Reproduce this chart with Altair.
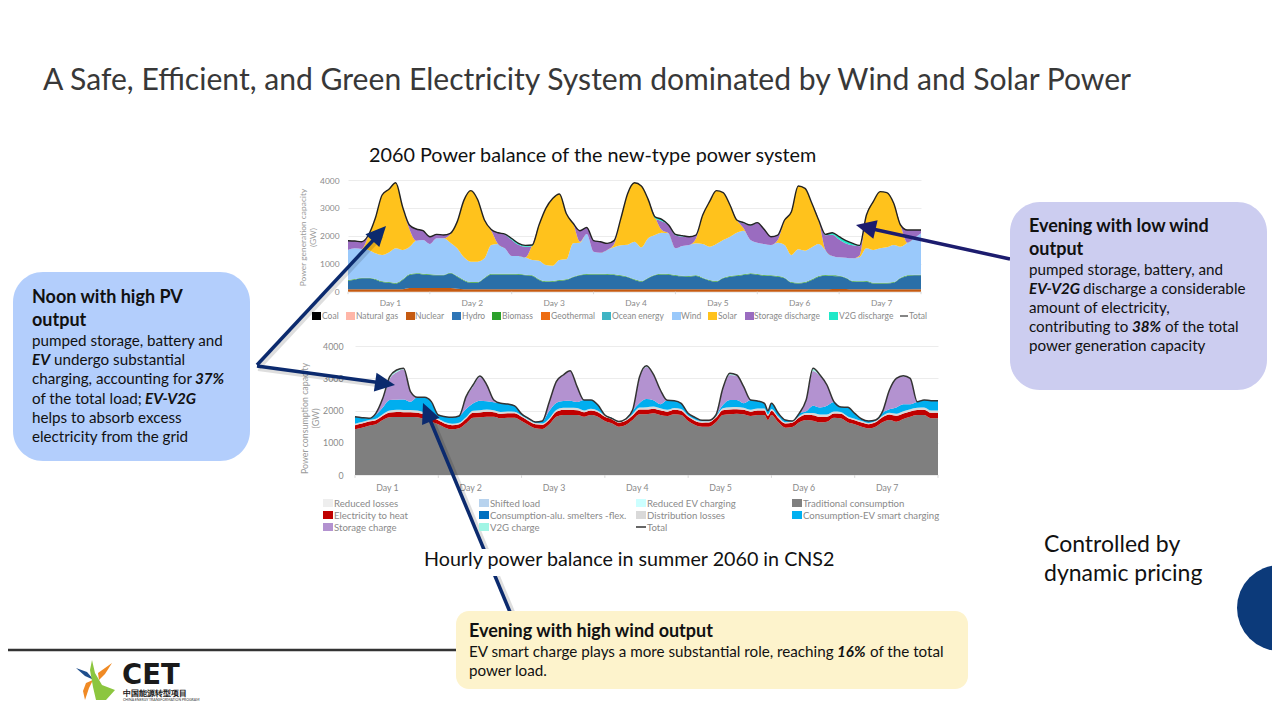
import altair as alt
import pandas as pd

FONT = "Lato"
W, H = 1264, 704
OX, OY = 8, 8
CURVE = "monotone"

# ---------- generation chart (GW), every 2 hours over 7 days ----------
gen_total = [
 1827,1815,1790,2030,2627,3463,3666,3900,3045,2388,2245,2185,
 1970,2054,2030,2090,2500,3280,3620,3300,2570,2230,2110,2060,
 1905,1730,1660,1670,2390,2985,3340,3500,2800,2450,2185,2300,
 1830,1790,1730,1830,2627,3520,3900,3785,3307,2686,2590,2390,
 2055,2006,1970,2030,2746,3224,3618,3546,3104,2567,2472,2388,
 2472,2233,1970,2030,2567,2866,3785,3700,3164,2567,2054,2113,
 1970,1827,1730,1660,2746,3224,3582,3546,3164,2388,2209,2209,2209]
gen_v2g = [
 0,0,0,0,0,0,0,0,0,0,0,0,
 0,0,0,0,0,0,0,0,0,0,0,20,
 50,50,50,30,0,0,0,0,0,0,0,0,
 0,0,0,0,0,0,0,0,0,60,70,10,
 30,30,0,0,0,0,0,0,0,20,20,20,
 0,0,0,0,0,0,0,0,0,0,30,70,
 100,100,70,30,0,0,0,0,0,0,0,0,0]
gen_solar_top = [
 1492,1552,1528,2000,2627,3463,3666,3900,3045,2245,1826,1850,
 1707,1910,1910,2060,2500,3280,3620,3300,2570,2185,1707,1552,
 1278,1278,1230,1670,2390,2985,3340,3500,2800,2450,1790,2066,
 1433,1397,1492,1700,2627,3520,3900,3785,3307,2686,2209,2090,
 1552,1636,1672,1900,2746,3224,3618,3546,3104,2567,2270,1851,
 1755,1707,1672,1850,2567,2866,3785,3700,3164,2567,1492,1278,
 1230,1218,1194,1300,2746,3224,3582,3546,3164,2388,1755,1910,2090]
gen_wind_top = [
 1492,1552,1528,1492,1373,1313,1400,1552,1492,1600,1826,1850,
 1707,1910,1910,1755,1552,1230,1075,1075,1194,1672,1707,1552,
 1278,1278,1230,1134,1110,955,931,1134,1158,1731,1755,2066,
 1433,1397,1492,1588,1660,1683,1791,1588,1910,2030,2113,2090,
 1552,1636,1672,1731,1707,1612,1707,1851,1970,2113,2185,1851,
 1755,1707,1672,1755,1672,1313,1516,1469,1588,1707,1492,1278,
 1230,1218,1194,1240,1552,1492,1552,1588,1672,1612,1755,1910,2090]
gen_hydro_top = [
 394,430,478,478,430,345,320,285,418,597,633,620,
 597,585,585,657,537,394,322,322,478,620,620,620,
 620,609,585,561,418,346,358,394,418,513,585,609,
 620,620,609,597,561,513,418,358,478,585,620,609,
 573,549,537,561,478,394,358,478,537,561,597,633,
 609,573,561,537,478,322,298,322,418,537,573,561,
 549,478,358,346,358,298,298,298,322,478,561,585,585]
gen_nuclear = [
 90,90,90,90,90,90,90,90,90,130,130,130,
 130,130,130,130,110,90,90,90,90,90,90,90,
 90,90,90,90,90,90,90,90,90,90,90,90,
 90,90,90,90,90,90,90,90,90,90,90,90,
 90,90,90,90,90,90,90,90,90,90,90,90,
 90,90,90,90,90,90,90,90,90,90,90,100,
 100,100,90,90,90,90,90,90,90,90,90,90,90]
gen_biomass = [25] * 85
gen_hours = list(range(0, 169, 2))

# ---------- consumption chart (GW) ----------
con_total = [
 1813,1782,1761,1917,2383,3056,3263,3320,2590,2414,2414,2280,
 1865,1813,1792,1834,2435,2797,3077,2797,2331,2227,2207,2150,
 1900,1761,1647,1678,2279,2900,3108,3240,2745,2331,2331,2176,
 1865,1761,1660,1740,2020,3056,3398,3129,2642,2320,2310,2227,
 1917,1792,1699,1699,1865,2694,3160,3108,2745,2331,2300,2227,2000,
 2228,1917,1709,1678,1917,2331,3315,3108,2797,2279,2113,2103,
 1917,1740,1678,1709,1968,2642,3004,3087,3004,2279,2331,2310,2310]
con_traditional = [
 1420,1471,1533,1575,1709,1792,1803,1803,1803,1792,1740,1658,
 1575,1471,1420,1450,1606,1782,1792,1813,1813,1761,1782,1782,
 1678,1554,1450,1430,1575,1813,1865,1865,1865,1813,1865,1813,
 1678,1606,1502,1554,1709,1885,1885,1917,1865,1834,1885,1865,
 1678,1554,1502,1502,1637,1865,1885,1906,1885,1834,1865,1865,1709,
 1865,1637,1471,1490,1637,1709,1689,1637,1658,1782,1761,1637,
 1575,1502,1450,1502,1637,1709,1658,1740,1813,1865,1865,1761,1761]
con_heat = [
 130,130,130,125,130,150,155,150,150,140,140,135,
 130,125,130,130,140,150,150,150,140,140,140,135,
 130,125,125,130,140,150,155,155,150,140,140,135,
 130,125,125,130,140,150,150,145,145,135,140,135,
 130,125,125,130,140,150,150,140,140,135,140,140,130,
 130,130,130,135,150,160,170,170,150,130,140,135,
 130,130,130,135,155,170,180,170,160,155,165,170,170]
con_losses = [
 45,45,45,45,50,60,70,70,70,70,60,50,
 45,45,45,45,50,65,70,70,60,55,55,50,
 45,45,40,40,50,60,70,70,65,55,55,50,
 45,45,40,40,50,60,70,70,65,60,60,50,
 45,45,40,40,50,60,70,70,65,60,60,60,50,
 60,50,40,40,50,60,65,70,70,60,60,50,
 45,45,40,40,50,55,65,70,70,70,70,70,70]
con_ev_top = [
 1813,1782,1761,1870,2100,2330,2340,2350,2280,2414,2414,2280,
 1865,1813,1792,1834,2050,2220,2310,2290,2260,2227,2207,2150,
 1900,1761,1647,1678,2000,2240,2300,2310,2270,2331,2331,2176,
 1865,1761,1660,1740,2000,2240,2360,2320,2200,2320,2310,2227,
 1917,1792,1699,1699,1865,2175,2330,2330,2230,2331,2300,2227,2000,
 2228,1917,1709,1678,1917,1980,2155,2100,2150,2270,2113,2103,
 1917,1740,1678,1709,1930,2040,2100,2200,2200,2279,2331,2310,2310]
con_v2g = [
 0,0,0,0,0,70,70,30,0,0,0,0,
 0,0,0,0,30,50,30,0,0,0,0,0,
 0,0,0,0,0,0,10,0,0,0,0,0,
 0,0,0,0,0,30,40,20,0,0,0,0,
 0,0,0,0,0,20,50,30,0,0,0,0,0,
 0,0,0,0,0,20,80,40,0,0,0,0,
 0,0,0,0,0,0,10,20,0,0,0,0,0]
con_hours = sorted(list(range(0, 169, 2)) + [119])

y_ticks = [0, 1000, 2000, 3000, 4000]
day_ticks = [0, 24, 48, 72, 96, 120, 144, 168]
gen_day_labels = [12.3, 36.3, 60.3, 84.3, 108.3, 132.3, 156.3]
con_day_labels = [9.2, 33.2, 57.2, 81.2, 105.2, 129.2, 153.2]

gen_legend = [("Coal", 312, 322, "#000000"), ("Natural gas", 346, 356, "#ffb6a8"),
              ("Nuclear", 406, 415, "#c55a11"), ("Hydro", 452, 462, "#2e75b6"),
              ("Biomass", 492, 502, "#2ca02c"), ("Geothermal", 541, 551, "#ed6d12"),
              ("Ocean energy", 602, 612, "#3fb4c4"), ("Wind", 672, 681, "#9ac9fb"),
              ("Solar", 708, 718, "#ffc21c"), ("Storage discharge", 745, 754, "#9a6cc0"),
              ("V2G discharge", 829, 839, "#20e8c8")]
con_legend = [("Reduced losses", 323, 334, 503, "#eeeeee"), ("Shifted load", 479, 490, 503, "#b8d3ee"),
              ("Reduced EV charging", 636, 647, 503, "#ccffff"), ("Traditional consumption", 792, 803, 503, "#7f7f7f"),
              ("Electricity to heat", 323, 334, 515, "#c00000"), ("Consumption-alu. smelters -flex.", 479, 490, 515, "#0070c0"),
              ("Distribution losses", 636, 647, 515, "#d9d9d9"), ("Consumption-EV smart charging", 792, 803, 515, "#00b0f0"),
              ("Storage charge", 323, 334, 527, "#b392d0"), ("V2G charge", 479, 490, 527, "#a0f5e5")]


def chart_scales(x0, x1, y0, y1):
    xs = alt.Scale(domain=[0, 168], range=[x0 - OX, x1 - OX], nice=False, zero=False)
    ys = alt.Scale(domain=[0, 4000], range=[y0 - OY, y1 - OY], nice=False, zero=False)
    return xs, ys


def band(hours, lo, hi, colour, xs, ys, xaxis=None, yaxis=None):
    df = pd.DataFrame({"h": hours, "lo": lo, "hi": hi})
    return alt.Chart(df).mark_area(color=colour, interpolate=CURVE, opacity=1).encode(
        x=alt.X("h:Q", scale=xs, axis=xaxis),
        y=alt.Y("hi:Q", scale=ys, axis=yaxis),
        y2=alt.Y2("lo:Q"),
    )


def axes(x0, y0, title, label_pad_x, title_pad, day_pad, size, days, title_y):
    day_expr = "'Day ' + ceil(datum.value / 24)"
    xaxis = alt.Axis(orient="bottom", offset=-(H - (y0 - OY)), values=days, labelExpr=day_expr,
                     ticks=False, domain=False, grid=False, title=None, labelFont=FONT,
                     labelFontSize=size, labelColor="#8a8a8a", labelPadding=day_pad)
    yaxis = alt.Axis(orient="left", offset=-(x0 - OX), values=y_ticks, format="d", ticks=False,
                     domain=False, grid=True, gridColor="#ececec", gridWidth=1, labelFont=FONT,
                     labelFontSize=size, labelColor="#8a8a8a", labelPadding=label_pad_x,
                     title=title, titleFont=FONT, titleFontSize=size, titleFontWeight="normal",
                     titleColor="#9a9a9a", titlePadding=title_pad, titleY=title_y - OY)
    return xaxis, yaxis


def ticks_layer(xs, ys):
    df = pd.DataFrame({"h": day_ticks, "a": [0] * 8, "b": [-90] * 8})
    return alt.Chart(df).mark_rule(color="#d9d9d9", strokeWidth=1).encode(
        x=alt.X("h:Q", scale=xs, axis=None),
        y=alt.Y("a:Q", scale=ys, axis=None),
        y2=alt.Y2("b:Q"))


def total_line(hours, values, colour, xs, ys, width):
    df = pd.DataFrame({"h": hours, "v": values})
    return alt.Chart(df).mark_line(color=colour, strokeWidth=width, interpolate=CURVE).encode(
        x=alt.X("h:Q", scale=xs, axis=None),
        y=alt.Y("v:Q", scale=ys, axis=None))


layers = []

# generation chart
xs1, ys1 = chart_scales(348, 921, 291.7, 180)
xa1, ya1 = axes(348, 291.7, ["Power generation capacity", "(GW)"], 9, 2, 7, 8.4, gen_day_labels, 237)
zero1 = [0] * 85
biomass_top = [h + b for h, b in zip(gen_hydro_top, gen_biomass)]
storage_top = [t - v for t, v in zip(gen_total, gen_v2g)]
layers += [
    band(gen_hours, zero1, gen_nuclear, "#c55a11", xs1, ys1, xa1, ya1),
    band(gen_hours, gen_nuclear, gen_hydro_top, "#2a6fa8", xs1, ys1),
    band(gen_hours, gen_hydro_top, biomass_top, "#3fa535", xs1, ys1),
    band(gen_hours, biomass_top, gen_wind_top, "#9ac9fb", xs1, ys1),
    band(gen_hours, gen_wind_top, gen_solar_top, "#ffc21c", xs1, ys1),
    band(gen_hours, gen_solar_top, storage_top, "#9a6cc0", xs1, ys1),
    band(gen_hours, storage_top, gen_total, "#20e8c8", xs1, ys1),
    total_line(gen_hours, gen_total, "#222222", xs1, ys1, 1.4),
    ticks_layer(xs1, ys1),
]

# consumption chart
xs2, ys2 = chart_scales(355, 938, 475, 346.3)
xa2, ya2 = axes(355, 475, ["Power consumption capacity", "(GW)"], 12, 2, 8, 8.8, con_day_labels, 418)
zero2 = [0] * 86
heat_top = [a + b for a, b in zip(con_traditional, con_heat)]
loss_top = [a + b for a, b in zip(heat_top, con_losses)]
charge_top = [t - v for t, v in zip(con_total, con_v2g)]
layers += [
    band(con_hours, zero2, con_traditional, "#7f7f7f", xs2, ys2, xa2, ya2),
    band(con_hours, con_traditional, heat_top, "#c00000", xs2, ys2),
    band(con_hours, heat_top, loss_top, "#d9d9d9", xs2, ys2),
    band(con_hours, loss_top, con_ev_top, "#00aeef", xs2, ys2),
    band(con_hours, con_ev_top, charge_top, "#b392d0", xs2, ys2),
    band(con_hours, charge_top, con_total, "#a0f5e5", xs2, ys2),
    total_line(con_hours, con_total, "#333333", xs2, ys2, 1.5),
    ticks_layer(xs2, ys2),
]


def px(v):
    return alt.value(v - OX)


def py(v):
    return alt.value(v - OY)


def rect(x0, y0, x1, y1, colour, radius=0):
    return alt.Chart(pd.DataFrame({"a": [0]})).mark_rect(color=colour, cornerRadius=radius, opacity=1).encode(
        x=px(x0), x2=px(x1), y=py(y0), y2=py(y1))


def seg(x0, y0, x1, y1, colour, width, opacity=1):
    return alt.Chart(pd.DataFrame({"a": [0]})).mark_rule(color=colour, strokeWidth=width, opacity=opacity).encode(
        x=px(x0), x2=px(x1), y=py(y0), y2=py(y1))


def head(x, y, angle, colour):
    return alt.Chart(pd.DataFrame({"a": [0]})).mark_point(
        shape="M0,0L-9.5,20L9.5,20Z", size=4, filled=True, color=colour, opacity=1, angle=angle, strokeWidth=0
    ).encode(x=px(x), y=py(y))


def poly(path, colour):
    return alt.Chart(pd.DataFrame({"a": [0]})).mark_point(
        shape=path, size=4, filled=True, color=colour, opacity=1, strokeWidth=0
    ).encode(x=alt.value(-OX), y=alt.value(-OY))


NAVY = "#0b2a6e"
INDIGO = "#1c1c6e"
SH = "#000000"
layers += [
    seg(259, 368, 382, 236, SH, 4, 0.13),
    seg(258, 369, 384, 386, SH, 4, 0.13),
    seg(513, 612, 431, 416, SH, 4, 0.13),
    seg(257, 365, 379, 234, NAVY, 3.5),
    head(386, 226, 43, NAVY),
    seg(257, 366, 382, 383, NAVY, 3.5),
    head(395, 385, 98, NAVY),
    seg(510, 612, 428, 415, NAVY, 3.5),
    head(423, 403, 337, NAVY),
    seg(1010, 259, 868, 228, INDIGO, 3.5),
    head(856, 225, 283, INDIGO),
    rect(424, 549, 834, 576, "#ffffff"),
    rect(13, 272, 250, 461, "#b3cefc", 30),
    rect(1010, 202, 1267, 390, "#cccdf0", 30),
    rect(456, 611, 968, 689, "#fdf3cc", 13),
    seg(0, 650, 456, 650, "#333333", 2.5),
    alt.Chart(pd.DataFrame({"a": [0]})).mark_circle(color="#0c3a7a", opacity=1, size=7396).encode(
        x=px(1280), y=py(608)),
]

# legends
swatches = []
for name, sx, tx, col in gen_legend:
    swatches.append((sx, 312, sx + 9, 320, col))
for name, sx, tx, sy, col in con_legend:
    swatches.append((sx, sy - 4, sx + 10, sy + 4, col))
for sx0, sy0, sx1, sy1, col in swatches:
    layers.append(rect(sx0, sy0, sx1, sy1, col))
layers += [seg(900, 316, 908, 316, "#333333", 1.2), seg(636, 527, 646, 527, "#333333", 1.5)]

# logo
layers += [
    poly("M76,668 L87,672 L94,680 L85,676 Z", "#1f4e8c"),
    poly("M98,673 L112,663 L105,674 L99,680 Z", "#f08a24"),
    poly("M93,680 L89,688 L85,700 L83,691 L86,683 Z", "#f08a24"),
    poly("M92,660 L95,673 L102,685 L115,690 L106,700 L96,700 L93,687 L90,670 Z", "#8cc63f"),
]

REG, BOLD, BI = ("normal", "normal"), ("bold", "normal"), ("bold", "italic")
GREY = "#8a8a8a"
BODY = 15.2
texts = [
    (43, 90, "A Safe, Efficient, and Green Electricity System dominated by Wind and Solar Power", 30.1, "#383838", REG),
    (369, 162, "2060 Power balance of the new-type power system", 19.8, "#111111", REG),
    (424, 566, "Hourly power balance in summer 2060 in CNS2", 19.7, "#111111", REG),
    (1044, 552, "Controlled by", 23, "#111111", REG),
    (1044, 581, "dynamic pricing", 23, "#111111", REG),
    (32, 303, "Noon with high PV", 18, "#111111", BOLD),
    (32, 326, "output", 18, "#111111", BOLD),
    (32, 346, "pumped storage, battery and", BODY, "#111111", REG),
    (32, 365, "EV", BODY, "#111111", BI),
    (54, 365, "undergo substantial", BODY, "#111111", REG),
    (32, 384, "charging, accounting for", BODY, "#111111", REG),
    (195, 384, "37%", BODY, "#111111", BI),
    (32, 404, "of the total load;", BODY, "#111111", REG),
    (145, 404, "EV-V2G", BODY, "#111111", BI),
    (32, 423, "helps to absorb excess", BODY, "#111111", REG),
    (32, 442, "electricity from the grid", BODY, "#111111", REG),
    (1029, 232, "Evening with low wind", 18, "#111111", BOLD),
    (1029, 255, "output", 18, "#111111", BOLD),
    (1029, 275, "pumped storage, battery, and", BODY, "#111111", REG),
    (1029, 294, "EV-V2G", BODY, "#111111", BI),
    (1083, 294, "discharge a considerable", BODY, "#111111", REG),
    (1029, 313, "amount of electricity,", BODY, "#111111", REG),
    (1029, 332, "contributing to", BODY, "#111111", REG),
    (1132, 332, "38%", BODY, "#111111", BI),
    (1165, 332, "of the total", BODY, "#111111", REG),
    (1029, 351, "power generation capacity", BODY, "#111111", REG),
    (469, 637, "Evening with high wind output", 18, "#111111", BOLD),
    (469, 657, "EV smart charge plays a more substantial role, reaching", BODY, "#111111", REG),
    (837, 657, "16%", BODY, "#111111", BI),
    (870, 657, "of the total", BODY, "#111111", REG),
    (469, 676, "power load.", BODY, "#111111", REG),
    (123, 695.5, "中国能源转型项目", 8.4, "#1a1a1a", BOLD),
    (123, 700.5, "CHINA ENERGY TRANSFORMATION PROGRAM", 3.5, "#333333", REG),
    (909, 319, "Total", 8.5, GREY, REG),
    (647, 530.5, "Total", 9.6, GREY, REG),
]
for name, sx, tx, col in gen_legend:
    texts.append((tx, 319, name, 8.5, GREY, REG))
for name, sx, tx, sy, col in con_legend:
    texts.append((tx, sy + 3.5, name, 9.6, GREY, REG))


def text_layer(rows, font, style):
    df = pd.DataFrame({"x": [t[0] - OX for t in rows], "y": [t[1] - OY for t in rows],
                       "t": [t[2] for t in rows], "s": [t[3] for t in rows], "c": [t[4] for t in rows]})
    return alt.Chart(df).mark_text(font=font, fontWeight=style[0], fontStyle=style[1],
                                   align="left", baseline="alphabetic").encode(
        x=alt.X("x:Q", scale=None, axis=None),
        y=alt.Y("y:Q", scale=None, axis=None),
        text="t:N",
        size=alt.Size("s:Q", scale=None),
        color=alt.Color("c:N", scale=None))


for style in (REG, BOLD, BI):
    layers.append(text_layer([t for t in texts if t[5] == style], FONT, style))
layers.append(text_layer([(122, 684, "CET", 27.5, "#1a1a1a")], "DejaVu Sans", BOLD))

chart = alt.layer(*layers).resolve_scale(x="independent", y="independent").properties(
    width=W, height=H, padding=0, autosize=alt.AutoSizeParams(type="none"), background="white"
).configure_view(stroke=None)

chart.save("out.html", embed_options={"renderer": "svg", "actions": False})
